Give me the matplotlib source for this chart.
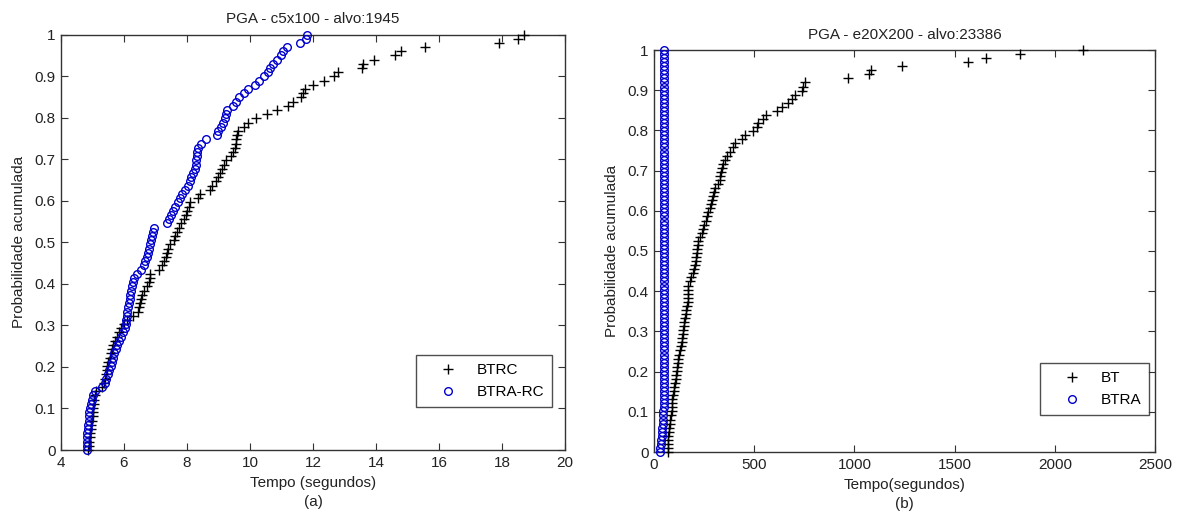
import numpy as np
import matplotlib
matplotlib.use("Agg")
import matplotlib.pyplot as plt

plt.rcParams['font.family'] = ['Liberation Sans', 'DejaVu Sans']

# ---------------- data (sorted run times) ----------------
btrc = [4.86, 4.88, 4.90, 4.91, 4.92, 4.94, 4.96, 4.98, 5.00, 5.02,
        5.03, 5.04, 5.06, 5.08, 5.10, 5.30, 5.36, 5.40, 5.43, 5.45,
        5.47, 5.50, 5.55, 5.58, 5.62, 5.65, 5.72, 5.78, 5.85, 5.92,
        6.00, 6.10, 6.30, 6.45, 6.48, 6.52, 6.54, 6.58, 6.62, 6.72,
        6.80, 6.82, 6.84, 7.10, 7.22, 7.28, 7.32, 7.36, 7.39, 7.45,
        7.58, 7.62, 7.67, 7.75, 7.82, 7.90, 7.98, 8.00, 8.05, 8.10,
        8.36, 8.40, 8.72, 8.80, 8.92, 8.98, 9.05, 9.10, 9.18, 9.25,
        9.40, 9.46, 9.52, 9.54, 9.57, 9.59, 9.62, 9.80, 9.95, 10.20,
        10.55, 10.85, 11.20, 11.35, 11.62, 11.68, 11.75, 12.00, 12.35, 12.67,
        12.80, 13.55, 13.60, 13.95, 14.60, 14.78, 15.56, 17.90, 18.50, 18.70]

btra_rc = [4.82, 4.82, 4.83, 4.83, 4.84, 4.85, 4.87, 4.88, 4.89, 4.90,
           4.93, 4.95, 4.98, 5.02, 5.08, 5.30, 5.40, 5.43, 5.48, 5.52,
           5.58, 5.62, 5.65, 5.68, 5.74, 5.78, 5.85, 5.92, 5.98, 6.02,
           6.05, 6.07, 6.09, 6.10, 6.12, 6.16, 6.18, 6.20, 6.22, 6.25,
           6.28, 6.32, 6.40, 6.55, 6.63, 6.68, 6.72, 6.76, 6.80, 6.84,
           6.86, 6.89, 6.92, 6.95, 7.37, 7.43, 7.50, 7.56, 7.62, 7.70,
           7.78, 7.85, 7.95, 8.02, 8.08, 8.14, 8.18, 8.24, 8.28, 8.30,
           8.31, 8.32, 8.36, 8.45, 8.60, 8.94, 8.98, 9.08, 9.15, 9.22,
           9.24, 9.28, 9.45, 9.56, 9.65, 9.80, 9.95, 10.15, 10.30, 10.45,
           10.56, 10.62, 10.72, 10.86, 10.98, 11.05, 11.16, 11.58, 11.78, 11.82]

bt = [68, 69, 70, 70, 72, 75, 77, 80, 82, 85,
      88, 90, 90, 92, 96, 100, 102, 105, 108, 110,
      115, 117, 120, 122, 125, 128, 133, 138, 142, 145,
      145, 148, 150, 155, 160, 162, 165, 168, 170, 170,
      170, 172, 178, 185, 195, 200, 205, 208, 210, 213,
      215, 218, 222, 230, 238, 245, 250, 260, 265, 270,
      278, 285, 290, 295, 300, 305, 318, 330, 330, 335,
      340, 345, 355, 365, 380, 395, 405, 440, 455, 495,
      515, 520, 545, 560, 615, 640, 670, 690, 705, 740,
      745, 755, 970, 1075, 1082, 1240, 1565, 1655, 1825, 2140]

btra = [30, 32, 34, 36, 38, 40, 42, 44, 45, 46,
        47, 48, 48, 49, 49, 50, 50, 50, 50, 50,
        50, 50, 50, 50, 50, 50, 50, 50, 50, 50,
        50, 50, 50, 50, 50, 50, 50, 50, 50, 50,
        50, 50, 50, 50, 50, 50, 50, 50, 50, 50,
        50, 50, 50, 50, 50, 50, 50, 50, 50, 50,
        50, 50, 50, 50, 50, 50, 50, 50, 50, 50,
        50, 50, 50, 50, 50, 50, 50, 50, 50, 50,
        50, 50, 50, 50, 50, 50, 50, 50, 50, 50,
        50, 50, 50, 50, 50, 50, 50, 50, 50, 50]

left_xticks = [4, 6, 8, 10, 12, 14, 16, 18, 20]
right_xticks = [0, 500, 1000, 1500, 2000, 2500]
yticks = [0, 0.1, 0.2, 0.3, 0.4, 0.5, 0.6, 0.7, 0.8, 0.9, 1]
ytick_labels = ['0', '0.1', '0.2', '0.3', '0.4', '0.5', '0.6', '0.7', '0.8', '0.9', '1']


def ecdf(vals):
    v = np.sort(np.asarray(vals, dtype=float))
    p = np.arange(len(v)) / (len(v) - 1)
    return v, p


FS = 11
BLUE = '#0000cc'
SPINE = '#333333'
TXT = '#222222'

fig = plt.figure(figsize=(11.8, 5.12), dpi=100)
fig.patch.set_facecolor('white')

ax1 = fig.add_axes([61 / 1180, (512 - 450) / 512, 504 / 1180, 415.5 / 512])
ax2 = fig.add_axes([654 / 1180, (512 - 452) / 512, 501 / 1180, 402 / 512])


def style(ax):
    for s in ax.spines.values():
        s.set_color(SPINE)
        s.set_linewidth(1.0)
    ax.tick_params(direction='in', top=True, right=True, length=5,
                   width=0.8, color=SPINE, labelsize=FS, pad=4,
                   labelcolor=TXT)
    ax.set_yticks(yticks)
    ax.set_yticklabels(ytick_labels)
    ax.set_ylim(0, 1)
    ax.set_ylabel('Probabilidade acumulada', fontsize=FS, color=TXT, labelpad=6)


def legend(ax, anchor):
    leg = ax.legend(loc='lower right', bbox_to_anchor=anchor,
                    fontsize=FS, frameon=True, fancybox=False, borderpad=0.5,
                    handletextpad=0.25, handlelength=3.2, borderaxespad=0,
                    labelspacing=0.55)
    leg.get_frame().set_edgecolor(TXT)
    leg.get_frame().set_linewidth(1.0)
    return leg


# left panel
x, p = ecdf(btrc)
ax1.plot(x, p, linestyle='none', marker='+', color='black', markersize=7.5,
         markeredgewidth=1.0, label='BTRC', clip_on=False, zorder=3)
x, p = ecdf(btra_rc)
ax1.plot(x, p, linestyle='none', marker='o', color=BLUE, markersize=5.5,
         markerfacecolor='none', markeredgewidth=1.0, label='BTRA-RC',
         clip_on=False, zorder=3)
ax1.set_xlim(4, 20)
ax1.set_xticks(left_xticks)
style(ax1)
ax1.set_title('PGA - c5x100 - alvo:1945', fontsize=FS, color=TXT, pad=8)
ax1.set_xlabel('Tempo (segundos)\n(a)', fontsize=FS, color=TXT,
               labelpad=5, linespacing=1.4)
legend(ax1, (0.974, 0.1035))

# right panel
x, p = ecdf(bt)
ax2.plot(x, p, linestyle='none', marker='+', color='black', markersize=7.5,
         markeredgewidth=1.0, label='BT', clip_on=False, zorder=3)
x, p = ecdf(btra)
ax2.plot(x, p, linestyle='none', marker='o', color=BLUE, markersize=5.5,
         markerfacecolor='none', markeredgewidth=1.0, label='BTRA',
         clip_on=False, zorder=3)
ax2.set_xlim(0, 2500)
ax2.set_xticks(right_xticks)
style(ax2)
ax2.set_title('PGA - e20X200 - alvo:23386', fontsize=FS, color=TXT, pad=8)
ax2.set_xlabel('Tempo(segundos)\n(b)', fontsize=FS, color=TXT,
               labelpad=5, linespacing=1.4)
legend(ax2, (0.988, 0.092))

fig.savefig('out.png', dpi=100, facecolor='white')
